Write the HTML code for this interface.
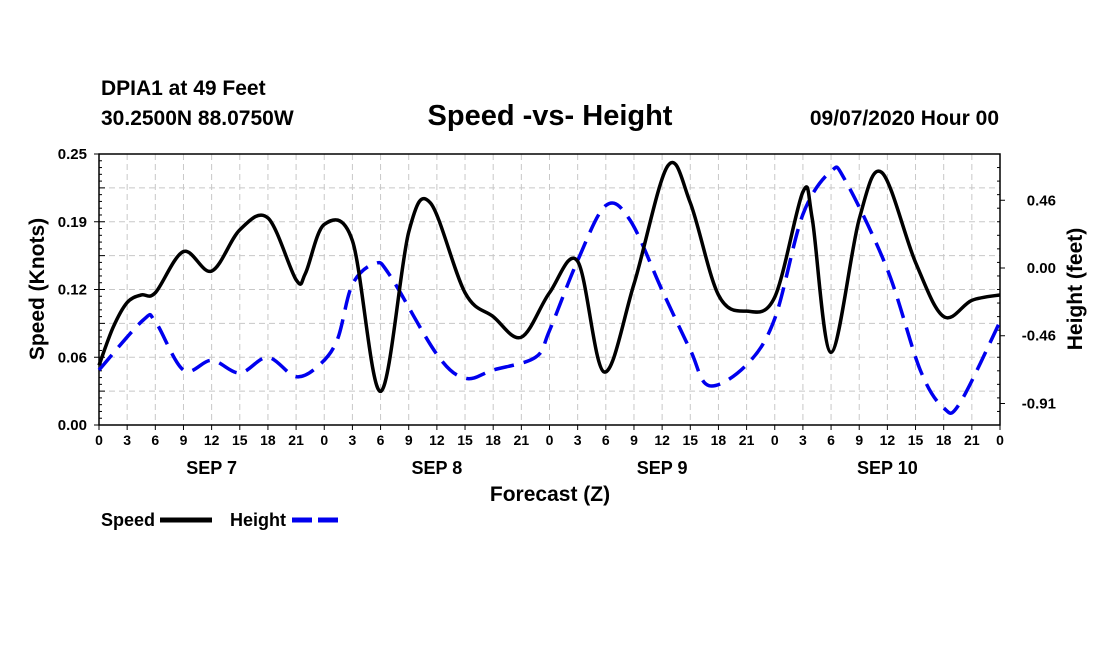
<!DOCTYPE html>
<html><head><meta charset="utf-8"><style>
body{margin:0;background:#fff;}
svg{display:block;font-family:"Liberation Sans",sans-serif;font-weight:bold;}
</style></head><body>
<svg id="chart" width="1100" height="650">
<text x="101" y="95" font-size="21">DPIA1 at 49 Feet</text>
<text x="101" y="125" font-size="21">30.2500N 88.0750W</text>
<text x="550" y="125" font-size="29" text-anchor="middle">Speed -vs- Height</text>
<text x="999" y="125" font-size="21" text-anchor="end">09/07/2020 Hour 00</text>
<g id="grid"></g><g id="axes"></g>
<path id="height" fill="none" stroke="#0000ee" stroke-width="3.5" stroke-dasharray="20,10"/>
<path id="speed" fill="none" stroke="#000" stroke-width="3.5"/>
<text x="44" y="289" font-size="21" text-anchor="middle" transform="rotate(-90 44 289)">Speed (Knots)</text>
<text x="1082" y="289" font-size="21" text-anchor="middle" transform="rotate(-90 1082 289)">Height (feet)</text>
<text x="550" y="501" font-size="21" text-anchor="middle">Forecast (Z)</text>
<g><text x="101" y="526" font-size="18">Speed</text><line x1="160" y1="520" x2="212" y2="520" stroke="#000" stroke-width="5"/></g>
<g><text x="230" y="526" font-size="18">Height</text><line x1="292" y1="520" x2="343" y2="520" stroke="#0000ee" stroke-width="5" stroke-dasharray="20,6"/></g>
</svg>
<script>
const speedHours=[0,1.5,3,4.5,6,9,12,15,18,21,22,24,27,30,33,35.3,39,42,45,48,51,53.8,57,60.6,63,66,69,72,75,76,78,81,83.4,87,90,93,96];
const speedValues=[0.055,0.09,0.113,0.12,0.122,0.16,0.142,0.18,0.191,0.134,0.14,0.185,0.17,0.031,0.178,0.205,0.122,0.1,0.081,0.122,0.151,0.049,0.13,0.239,0.205,0.12,0.105,0.118,0.215,0.19,0.067,0.19,0.233,0.15,0.1,0.115,0.12];
const heightHours=[0,4.7,6,9,12,15,18,21,23.5,25.4,27,29.4,31,36,39,42,46.5,48,51,54,56.6,60,63,65,69,72,75,78,79.5,84,87.5,90,91.7,96];
const heightValues=[-0.685,-0.35,-0.36,-0.685,-0.62,-0.705,-0.6,-0.73,-0.65,-0.48,-0.11,0.03,-0.05,-0.58,-0.74,-0.685,-0.6,-0.42,0.05,0.42,0.32,-0.15,-0.55,-0.79,-0.65,-0.34,0.36,0.65,0.59,-0.01,-0.685,-0.94,-0.91,-0.36];
const leftTicks=[0,0.0625,0.125,0.1875,0.25];
const leftTickLabels=["0.00","0.06","0.12","0.19","0.25"];
const rightTicks=[0.455,0,-0.455,-0.91];
const rightTickLabels=["0.46","0.00","-0.46","-0.91"];
const xTickLabels=["0","3","6","9","12","15","18","21"];
const dayLabels=["SEP 7","SEP 8","SEP 9","SEP 10"];
const X0=99,X1=1000,Y0=425,Y1=154;
const xs=h=>X0+h*(X1-X0)/96;
const yl=v=>Y0-v*(Y0-Y1)/0.25;
const yr=v=>268-v*148.9;
const NS="http://www.w3.org/2000/svg";
function mk(tag,at,parent,txt){const e=document.createElementNS(NS,tag);for(const k in at)e.setAttribute(k,at[k]);if(txt!==undefined)e.textContent=txt;parent.appendChild(e);return e;}
const grid=document.getElementById('grid'),axes=document.getElementById('axes');
for(let i=1;i<32;i++){const l=mk('line',{x1:xs(i*3),x2:xs(i*3),y1:Y1,y2:Y0,stroke:'#c8c8c8','stroke-dasharray':'6,4'},grid);

}
for(let i=1;i<8;i++){const v=i*0.03125;const l=mk('line',{x1:X0,x2:X1,y1:yl(v),y2:yl(v),stroke:'#c8c8c8','stroke-dasharray':'6,4'},grid);

}
mk('rect',{x:X0,y:Y1,width:X1-X0,height:Y0-Y1,fill:'none',stroke:'#000','stroke-width':1.5},axes);
for(let i=0;i<=32;i++){const x=xs(i*3);mk('line',{x1:x,x2:x,y1:Y0,y2:Y0+5,stroke:'#000'},axes);
const t=mk('text',{x:x,y:Y0+20,'font-size':14,'text-anchor':'middle'},axes,xTickLabels[i%8]);

}
dayLabels.forEach((d,i)=>{const t=mk('text',{x:xs(i*24+12),y:Y0+49,'font-size':18,'text-anchor':'middle'},axes,d);

});
leftTicks.forEach((v,i)=>{mk('line',{x1:X0-5,x2:X0,y1:yl(v),y2:yl(v),stroke:'#000'},axes);
const t=mk('text',{x:X0-12,y:yl(v)+5,'font-size':15,'text-anchor':'end'},axes,leftTickLabels[i]);

});
for(let i=0;i<=40;i++){const v=i*0.00625;mk('line',{x1:X0,x2:X0+(i%5?3:6),y1:yl(v),y2:yl(v),stroke:'#000'},axes);}
rightTicks.forEach((v,i)=>{mk('line',{x1:X1,x2:X1+5,y1:yr(v),y2:yr(v),stroke:'#000'},axes);
const t=mk('text',{x:X1+56,y:yr(v)+5,'font-size':15,'text-anchor':'end'},axes,rightTickLabels[i]);

});
for(let y=Y1;y<=Y0;y+=13.55){mk('line',{x1:X1-3,x2:X1,y1:y,y2:y,stroke:'#000'},axes);}
function spline(hs,vs,fy){const p=hs.map((h,i)=>[xs(h),fy(vs[i])]);let d=`M${p[0][0]},${p[0][1]}`;
for(let i=0;i<p.length-1;i++){const a=p[Math.max(i-1,0)],b=p[i],c=p[i+1],e=p[Math.min(i+2,p.length-1)];
d+=` C${b[0]+(c[0]-a[0])/6},${b[1]+(c[1]-a[1])/6} ${c[0]-(e[0]-b[0])/6},${c[1]-(e[1]-b[1])/6} ${c[0]},${c[1]}`;}return d;}
document.getElementById('speed').setAttribute('d',spline(speedHours,speedValues,yl));
document.getElementById('height').setAttribute('d',spline(heightHours,heightValues,yr));
</script>
</body></html>
